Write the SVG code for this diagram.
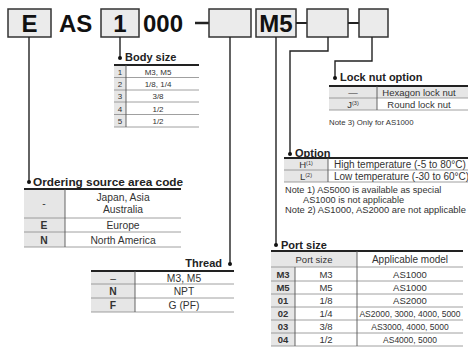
<svg xmlns="http://www.w3.org/2000/svg" width="468" height="354" viewBox="0 0 468 354">
<style>
.box{fill:#ebebeb;stroke:#333;stroke-width:1.5}
.big{font-family:"Liberation Sans",Arial,sans-serif;font-weight:bold;font-size:24px;fill:#111}
.con{fill:none;stroke:#222;stroke-width:1.4}
.dot{fill:#111}
.hd{font-family:"Liberation Sans",Arial,sans-serif;font-weight:bold;font-size:11px;fill:#222}
.t{font-family:"Liberation Sans",Arial,sans-serif;font-size:9.5px;fill:#333}
.s8{font-size:8px}
.s85{font-size:8.5px}
.s10{font-size:10px}
.s105{font-size:10.3px}
.c{text-anchor:middle}
.tb{font-weight:bold}
.g{fill:#e6e6e6}
.rule{stroke:#222;stroke-width:2}
.sep{stroke:#888;stroke-width:0.8}
.vs{stroke:#555;stroke-width:0.9}
.sup{font-size:5.5px}
</style>

<g id="code">
  <rect class="box" x="8" y="9" width="43" height="28"/>
  <text class="big c" x="29.5" y="32">E</text>
  <text class="big" x="59" y="32">AS</text>
  <rect class="box" x="101" y="9" width="38" height="28"/>
  <text class="big c" x="120" y="32">1</text>
  <text class="big" x="143" y="32">000</text>
  <line x1="195" y1="23" x2="209" y2="23" stroke="#222" stroke-width="2.5"/>
  <rect class="box" x="209" y="9" width="42" height="28"/>
  <rect class="box" x="256" y="9" width="40" height="28"/>
  <text class="big c" x="276" y="32">M5</text>
  <line x1="296" y1="23" x2="307" y2="23" stroke="#222" stroke-width="2"/>
  <rect class="box" x="307" y="9" width="41" height="28"/>
  <line x1="348" y1="23" x2="359" y2="23" stroke="#222" stroke-width="2"/>
  <rect class="box" x="359" y="9" width="29" height="28"/>
</g>

<g id="connectors">
  <path class="con" d="M29 37V182"/>
  <circle class="dot" cx="29" cy="182" r="2"/>
  <path class="con" d="M120 37V58"/>
  <circle class="dot" cx="120" cy="58" r="2"/>
  <path class="con" d="M230 37V264"/>
  <circle class="dot" cx="230" cy="264" r="2"/>
  <path class="con" d="M276 37V245"/>
  <circle class="dot" cx="276" cy="245" r="2"/>
  <path class="con" d="M328 37V51H290V154"/>
  <circle class="dot" cx="290" cy="154" r="2"/>
  <path class="con" d="M372 37V61H335V78"/>
  <circle class="dot" cx="335" cy="78" r="2"/>
</g>

<g id="body-size">
  <text class="hd" x="125" y="61">Body size</text>
  <rect class="g" x="114" y="65" width="12" height="62"/>
  <line class="rule" x1="114" y1="65" x2="199" y2="65"/>
  <line class="sep" x1="114" y1="77.5" x2="199" y2="77.5"/>
  <line class="sep" x1="114" y1="90" x2="199" y2="90"/>
  <line class="sep" x1="114" y1="102" x2="199" y2="102"/>
  <line class="sep" x1="114" y1="114.5" x2="199" y2="114.5"/>
  <line class="sep" x1="114" y1="127" x2="199" y2="127"/>
  <line class="vs" x1="126" y1="65" x2="126" y2="127"/>
  <text class="t s8 c" x="120" y="74.5">1</text><text class="t s8 c" x="158" y="74.5">M3, M5</text>
  <text class="t s8 c" x="120" y="87">2</text><text class="t s8 c" x="158" y="87">1/8, 1/4</text>
  <text class="t s8 c" x="120" y="99">3</text><text class="t s8 c" x="158" y="99">3/8</text>
  <text class="t s8 c" x="120" y="111.5">4</text><text class="t s8 c" x="158" y="111.5">1/2</text>
  <text class="t s8 c" x="120" y="124">5</text><text class="t s8 c" x="158" y="124">1/2</text>
</g>

<g id="lock-nut-option">
  <text class="hd" x="340" y="81">Lock nut option</text>
  <rect class="g" x="329" y="86" width="139" height="12"/>
  <rect class="g" x="329" y="98" width="48" height="12"/>
  <line class="rule" x1="329" y1="86" x2="468" y2="86"/>
  <line class="sep" x1="329" y1="98" x2="468" y2="98"/>
  <line class="sep" x1="329" y1="110" x2="468" y2="110"/>
  <line class="vs" x1="377" y1="86" x2="377" y2="110"/>
  <text class="t c" x="353" y="95.5">—</text><text class="t c" x="419" y="95.5">Hexagon lock nut</text>
  <text class="t c" x="353" y="107.5">J<tspan class="sup" dy="-3">(3)</tspan></text><text class="t c" x="419" y="107.5">Round lock nut</text>
  <text class="t" x="329" y="125" style="font-size:7.8px">Note 3) Only for AS1000</text>
</g>

<g id="option">
  <text class="hd" x="295" y="157">Option</text>
  <rect class="g" x="284" y="158" width="44" height="24"/>
  <line class="rule" x1="284" y1="158" x2="468" y2="158"/>
  <line class="sep" x1="284" y1="170" x2="468" y2="170"/>
  <line class="sep" x1="284" y1="182" x2="468" y2="182"/>
  <line class="vs" x1="328" y1="158" x2="328" y2="182"/>
  <text class="t c" x="306" y="167.5">H<tspan class="sup" dy="-3">(1)</tspan></text>
  <text class="t s10" x="334" y="167.5">High temperature (-5 to 80°C)</text>
  <text class="t c" x="306" y="179.5">L<tspan class="sup" dy="-3">(2)</tspan></text>
  <text class="t s10" x="334" y="179.5">Low temperature (-30 to 60°C)</text>
  <text class="t" x="285" y="193" style="font-size:9.2px">Note 1) AS5000 is available as special</text>
  <text class="t" x="303" y="203" style="font-size:9.2px">AS1000 is not applicable</text>
  <text class="t" x="285" y="212.5" style="font-size:9.4px">Note 2) AS1000, AS2000 are not applicable</text>
</g>

<g id="ordering-source">
  <text class="hd" x="33" y="186" style="font-size:11.8px">Ordering source area code</text>
  <rect class="g" x="24" y="189" width="41" height="58"/>
  <line class="rule" x1="24" y1="189" x2="181" y2="189"/>
  <line class="sep" x1="24" y1="218" x2="181" y2="218"/>
  <line class="sep" x1="24" y1="232" x2="181" y2="232"/>
  <line class="sep" x1="24" y1="247" x2="181" y2="247"/>
  <line class="vs" x1="65" y1="189" x2="65" y2="247"/>
  <text class="t s105 c" x="44" y="207">-</text>
  <text class="t s105 c" x="123" y="201">Japan, Asia</text>
  <text class="t s105 c" x="123" y="213">Australia</text>
  <text class="t s105 c tb" x="44" y="229">E</text><text class="t s105 c" x="123" y="229">Europe</text>
  <text class="t s105 c tb" x="44" y="243.5">N</text><text class="t s105 c" x="123" y="243.5">North America</text>
</g>

<g id="thread">
  <text class="hd" x="222" y="267" text-anchor="end">Thread</text>
  <rect class="g" x="91" y="271" width="44" height="41"/>
  <line class="rule" x1="91" y1="271" x2="234" y2="271"/>
  <line class="sep" x1="91" y1="284" x2="234" y2="284"/>
  <line class="sep" x1="91" y1="298" x2="234" y2="298"/>
  <line class="sep" x1="91" y1="312" x2="234" y2="312"/>
  <line class="vs" x1="135" y1="271" x2="135" y2="312"/>
  <text class="t s105 c" x="113" y="281.5">–</text><text class="t s105 c" x="184" y="281.5">M3, M5</text>
  <text class="t s105 c tb" x="113" y="295">N</text><text class="t s105 c" x="184" y="295">NPT</text>
  <text class="t s105 c tb" x="113" y="309">F</text><text class="t s105 c" x="184" y="309">G (PF)</text>
</g>

<g id="port-size">
  <text class="hd" x="281" y="249">Port size</text>
  <rect class="g" x="271" y="251" width="86" height="16"/>
  <rect class="g" x="271" y="267" width="24" height="79"/>
  <line class="rule" x1="271" y1="251" x2="463" y2="251"/>
  <line class="sep" x1="271" y1="267" x2="463" y2="267"/>
  <line class="sep" x1="271" y1="281" x2="463" y2="281"/>
  <line class="sep" x1="271" y1="294" x2="463" y2="294"/>
  <line class="sep" x1="271" y1="307" x2="463" y2="307"/>
  <line class="sep" x1="271" y1="320" x2="463" y2="320"/>
  <line class="sep" x1="271" y1="333" x2="463" y2="333"/>
  <line class="sep" x1="271" y1="346" x2="463" y2="346"/>
  <line class="vs" x1="295" y1="267" x2="295" y2="346"/>
  <line class="vs" x1="357" y1="251" x2="357" y2="346"/>
  <text class="t c" x="314" y="262.5">Port size</text>
  <text class="t s10 c" x="410" y="262.5">Applicable model</text>
  <text class="t c tb" x="283" y="277.5">M3</text><text class="t c" x="326" y="277.5">M3</text><text class="t c" x="410" y="277.5">AS1000</text>
  <text class="t c tb" x="283" y="291">M5</text><text class="t c" x="326" y="291">M5</text><text class="t c" x="410" y="291">AS1000</text>
  <text class="t c tb" x="283" y="304">01</text><text class="t c" x="326" y="304">1/8</text><text class="t c" x="410" y="304">AS2000</text>
  <text class="t c tb" x="283" y="317">02</text><text class="t c" x="326" y="317">1/4</text><text class="t s85 c" x="410" y="316.5">AS2000, 3000, 4000, 5000</text>
  <text class="t c tb" x="283" y="330">03</text><text class="t c" x="326" y="330">3/8</text><text class="t s85 c" x="410" y="329.5">AS3000, 4000, 5000</text>
  <text class="t c tb" x="283" y="343">04</text><text class="t c" x="326" y="343">1/2</text><text class="t s85 c" x="410" y="342.5">AS4000, 5000</text>
</g>
</svg>
